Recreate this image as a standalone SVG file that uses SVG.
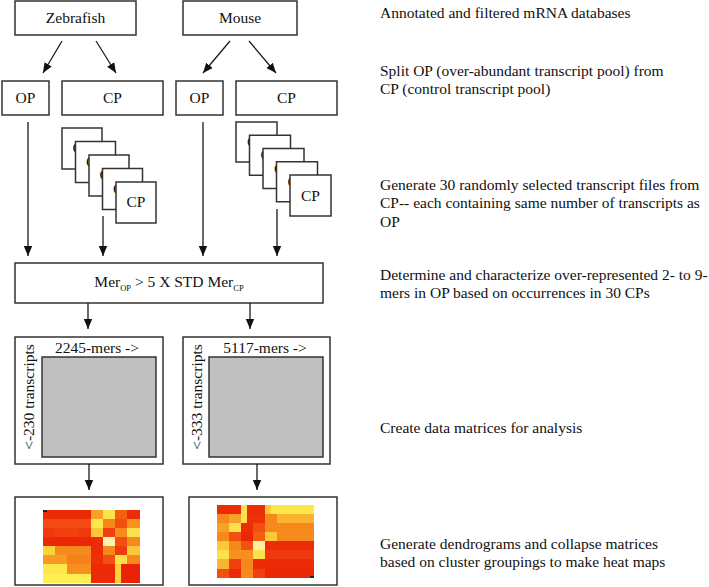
<svg xmlns="http://www.w3.org/2000/svg" width="709" height="587" viewBox="0 0 709 587">
<style>
text{font-family:"Liberation Serif","Times New Roman",serif;fill:#111;}
.lbl{font-size:15.5px;text-anchor:middle;}
.desc{font-size:15.5px;}
.box{fill:#fff;stroke:#333;stroke-width:1.5;}
.gray{fill:#c0c0c0;stroke:#333;stroke-width:1.5;}
.con{stroke:#1a1a1a;stroke-width:1.3;fill:none;marker-end:url(#ah);}
.sub{font-size:8.5px;}
</style>
<defs>
<marker id="ah" markerUnits="userSpaceOnUse" markerWidth="10" markerHeight="10" viewBox="0 0 10 10" refX="10" refY="5" orient="auto">
<path d="M0,0.8 L10,5 L0,9.2 Z" fill="#111"/>
</marker>
</defs>
<rect width="709" height="587" fill="#fff"/>

<g id="zebrafish"><rect class="box" x="15" y="1" width="121" height="34"/><text class="lbl" x="75.5" y="23">Zebrafish</text></g>
<g id="mouse"><rect class="box" x="183" y="1" width="114" height="34"/><text class="lbl" x="240" y="23">Mouse</text></g>

<g id="op-zebrafish"><rect class="box" x="2" y="81" width="47" height="34"/><text class="lbl" x="25.5" y="103">OP</text></g>
<g id="cp-zebrafish"><rect class="box" x="62" y="81" width="101" height="34"/><text class="lbl" x="112.5" y="103">CP</text></g>
<g id="op-mouse"><rect class="box" x="176" y="81" width="47" height="34"/><text class="lbl" x="199.5" y="103">OP</text></g>
<g id="cp-mouse"><rect class="box" x="236" y="81" width="101" height="34"/><text class="lbl" x="286.5" y="103">CP</text></g>

<g id="cp-stack-zebrafish">
<rect class="box" x="62" y="128" width="40" height="41"/><text class="lbl" x="82" y="153">CP</text>
<rect class="box" x="75.5" y="141.5" width="40" height="41"/><text class="lbl" x="95.5" y="166.5">CP</text>
<rect class="box" x="89" y="155" width="40" height="41"/><text class="lbl" x="109" y="180">CP</text>
<rect class="box" x="102.5" y="168.5" width="40" height="41"/><text class="lbl" x="122.5" y="193.5">CP</text>
<rect class="box" x="116" y="182" width="40" height="41"/><text class="lbl" x="136" y="207">CP</text>
</g>
<g id="cp-stack-mouse">
<rect class="box" x="236" y="122" width="41" height="40"/><text class="lbl" x="256.5" y="147">CP</text>
<rect class="box" x="249.5" y="135.25" width="41" height="40"/><text class="lbl" x="270" y="160.25">CP</text>
<rect class="box" x="263" y="148.5" width="41" height="40"/><text class="lbl" x="283.5" y="173.5">CP</text>
<rect class="box" x="276.5" y="161.75" width="41" height="40"/><text class="lbl" x="297" y="186.75">CP</text>
<rect class="box" x="290" y="175" width="41" height="41"/><text class="lbl" x="310.5" y="200.5">CP</text>
</g>

<g id="criterion"><rect class="box" x="15" y="263" width="308" height="40"/>
<text x="169" y="287" text-anchor="middle" font-size="15.5">Mer<tspan class="sub" dy="4">OP</tspan><tspan dy="-4"> &gt; 5 X STD Mer</tspan><tspan class="sub" dy="4">CP</tspan></text></g>

<g id="matrix-zebrafish"><rect class="box" x="15" y="337" width="148" height="127"/><rect class="gray" x="42" y="357" width="114" height="100"/>
<text class="lbl" x="97" y="353">2245-mers -&gt;</text>
<text class="lbl" transform="translate(34,397) rotate(-90)">&lt;-230 transcripts</text></g>
<g id="matrix-mouse"><rect class="box" x="183" y="337" width="147" height="127"/><rect class="gray" x="209" y="357" width="114" height="100"/>
<text class="lbl" x="265" y="353">5117-mers -&gt;</text>
<text class="lbl" transform="translate(202,397) rotate(-90)">&lt;-333 transcripts</text></g>

<g id="heatmap-zebrafish"><rect class="box" x="15" y="497" width="148" height="88"/>
<g transform="translate(43,510)">
<rect width="97" height="73" fill="#ee3a0c"/>
<rect x="0" y="0" width="48" height="9" fill="#ec2a06"/>
<rect x="0" y="9" width="48" height="9" fill="#f24a10"/>
<rect x="12" y="18" width="24" height="9" fill="#f0400c"/>
<rect x="0" y="27" width="48" height="9" fill="#ea2806"/>
<rect x="0" y="36" width="12" height="9" fill="#fbd23a"/>
<rect x="12" y="36" width="36" height="9" fill="#f78a1e"/>
<rect x="0" y="45" width="24" height="9" fill="#f99a26"/>
<rect x="24" y="45" width="24" height="9" fill="#f7801c"/>
<rect x="0" y="54" width="24" height="10" fill="#fde84a"/>
<rect x="24" y="54" width="24" height="10" fill="#f8901f"/>
<rect x="0" y="64" width="48" height="9" fill="#fdf050"/>
<rect x="48" y="0" width="12" height="9" fill="#f9a02a"/>
<rect x="60" y="0" width="12" height="9" fill="#fde34a"/>
<rect x="72" y="0" width="12" height="9" fill="#f4600f"/>
<rect x="84" y="0" width="13" height="9" fill="#ec2c06"/>
<rect x="48" y="9" width="12" height="9" fill="#fde84a"/>
<rect x="60" y="9" width="12" height="9" fill="#f7881c"/>
<rect x="72" y="9" width="12" height="9" fill="#f25010"/>
<rect x="84" y="9" width="13" height="9" fill="#f8921f"/>
<rect x="48" y="18" width="12" height="9" fill="#fcc83a"/>
<rect x="60" y="18" width="12" height="9" fill="#f04010"/>
<rect x="72" y="18" width="12" height="9" fill="#f78a1e"/>
<rect x="84" y="18" width="13" height="9" fill="#fde04a"/>
<rect x="48" y="27" width="12" height="9" fill="#ec2c06"/>
<rect x="60" y="27" width="12" height="9" fill="#fff0b0"/>
<rect x="72" y="27" width="12" height="9" fill="#f25010"/>
<rect x="84" y="27" width="13" height="9" fill="#f78a1e"/>
<rect x="48" y="36" width="12" height="9" fill="#ec2c06"/>
<rect x="60" y="36" width="12" height="9" fill="#f7881c"/>
<rect x="72" y="36" width="12" height="9" fill="#ee3a0c"/>
<rect x="84" y="36" width="13" height="9" fill="#fcc83a"/>
<rect x="48" y="45" width="12" height="9" fill="#ee3006"/>
<rect x="60" y="45" width="12" height="9" fill="#f25010"/>
<rect x="72" y="45" width="12" height="9" fill="#fde04a"/>
<rect x="84" y="45" width="13" height="9" fill="#f7881c"/>
<rect x="48" y="54" width="24" height="19" fill="#ec2a06"/>
<rect x="72" y="54" width="6" height="19" fill="#fcd23a"/>
<rect x="78" y="54" width="19" height="19" fill="#ea2206"/>
<rect x="0" y="0" width="4" height="2" fill="#222"/>
</g></g>

<g id="heatmap-mouse"><rect class="box" x="189" y="497" width="148" height="88"/>
<g transform="translate(217,505)">
<rect width="97" height="73" fill="#ee3a0c"/>
<rect x="0" y="0" width="24" height="9" fill="#ec2a06"/>
<rect x="24" y="0" width="6" height="18" fill="#fde04a"/>
<rect x="30" y="0" width="18" height="9" fill="#ec2c06"/>
<rect x="48" y="0" width="6" height="9" fill="#fcc83a"/>
<rect x="54" y="0" width="43" height="9" fill="#fde84a"/>
<rect x="0" y="9" width="12" height="9" fill="#f7881c"/>
<rect x="12" y="9" width="12" height="9" fill="#f9a02a"/>
<rect x="30" y="9" width="18" height="9" fill="#ee3006"/>
<rect x="48" y="9" width="12" height="9" fill="#f7881c"/>
<rect x="60" y="9" width="37" height="9" fill="#fbb430"/>
<rect x="0" y="18" width="12" height="9" fill="#f9a02a"/>
<rect x="12" y="18" width="12" height="9" fill="#fde04a"/>
<rect x="24" y="18" width="12" height="9" fill="#ec2c06"/>
<rect x="36" y="18" width="12" height="9" fill="#f25010"/>
<rect x="48" y="18" width="49" height="9" fill="#f7881c"/>
<rect x="0" y="27" width="12" height="9" fill="#f7881c"/>
<rect x="12" y="27" width="12" height="9" fill="#f25010"/>
<rect x="24" y="27" width="12" height="9" fill="#ea2806"/>
<rect x="36" y="27" width="12" height="9" fill="#f4600f"/>
<rect x="48" y="27" width="12" height="9" fill="#fcc83a"/>
<rect x="60" y="27" width="37" height="9" fill="#f78a1e"/>
<rect x="0" y="36" width="12" height="9" fill="#fcc83a"/>
<rect x="12" y="36" width="12" height="9" fill="#f7881c"/>
<rect x="24" y="36" width="12" height="9" fill="#f25010"/>
<rect x="36" y="36" width="12" height="9" fill="#fff0a0"/>
<rect x="48" y="36" width="49" height="9" fill="#ec2c06"/>
<rect x="0" y="45" width="12" height="9" fill="#fde04a"/>
<rect x="12" y="45" width="24" height="9" fill="#f8901f"/>
<rect x="36" y="45" width="12" height="9" fill="#fde04a"/>
<rect x="48" y="45" width="49" height="9" fill="#ee3a0c"/>
<rect x="0" y="54" width="12" height="10" fill="#fbb430"/>
<rect x="12" y="54" width="12" height="10" fill="#f04010"/>
<rect x="24" y="54" width="12" height="10" fill="#f7881c"/>
<rect x="36" y="54" width="61" height="10" fill="#ec2c06"/>
<rect x="0" y="64" width="12" height="9" fill="#f25010"/>
<rect x="12" y="64" width="12" height="9" fill="#ec2a06"/>
<rect x="24" y="64" width="12" height="9" fill="#f78a1e"/>
<rect x="36" y="64" width="12" height="9" fill="#f04010"/>
<rect x="48" y="64" width="49" height="9" fill="#ea2806"/>
<rect x="93" y="71" width="4" height="2" fill="#222"/>
</g></g>

<g id="connectors">
<line class="con" x1="62" y1="41" x2="43" y2="73"/>
<line class="con" x1="96" y1="41" x2="116" y2="73"/>
<line class="con" x1="230" y1="41" x2="203" y2="73"/>
<line class="con" x1="249" y1="41" x2="276" y2="73"/>
<line class="con" x1="28" y1="122" x2="28" y2="256"/>
<line class="con" x1="103" y1="216" x2="103" y2="256"/>
<line class="con" x1="203" y1="122" x2="203" y2="256"/>
<line class="con" x1="277" y1="209" x2="277" y2="256"/>
<line class="con" x1="88" y1="303" x2="88" y2="329"/>
<line class="con" x1="250" y1="303" x2="250" y2="329"/>
<line class="con" x1="89" y1="464" x2="89" y2="490"/>
<line class="con" x1="257" y1="464" x2="257" y2="490"/>
</g>

<g id="descriptions">
<text class="desc" x="380" y="18">Annotated and filtered mRNA databases</text>
<text class="desc" x="380" y="76">Split OP (over-abundant transcript pool) from</text>
<text class="desc" x="380" y="94">CP (control transcript pool)</text>
<text class="desc" x="380" y="190">Generate 30 randomly selected transcript files from</text>
<text class="desc" x="380" y="208">CP-- each containing same number of transcripts as</text>
<text class="desc" x="380" y="227">OP</text>
<text class="desc" x="380" y="280">Determine and characterize over-represented 2- to 9-</text>
<text class="desc" x="380" y="298">mers in OP based on occurrences in 30 CPs</text>
<text class="desc" x="380" y="433">Create data matrices for analysis</text>
<text class="desc" x="380" y="549">Generate dendrograms and collapse matrices</text>
<text class="desc" x="380" y="567">based on cluster groupings to make heat maps</text>
</g>
</svg>
